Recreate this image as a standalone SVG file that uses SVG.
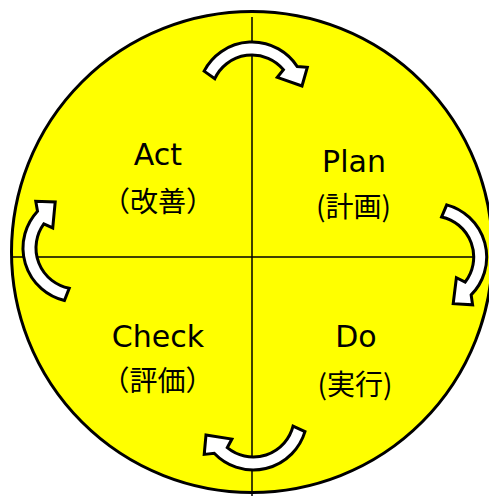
<svg xmlns="http://www.w3.org/2000/svg" xmlns:xlink="http://www.w3.org/1999/xlink" width="489" height="496" viewBox="0 0 489 496">
<style>
.lat{font-family:"DejaVu Sans","Liberation Sans",sans-serif;font-size:30px;fill:#000;text-anchor:middle}
.jp{font-family:"Noto Sans CJK JP","Noto Sans",sans-serif;font-size:28px;fill:#000;text-anchor:middle}
.arr{fill:#fff;stroke:#000;stroke-width:3;stroke-linejoin:miter}
.ax{stroke:#000;stroke-width:1.5;fill:none}
</style>
<defs>
<path id="carrow" class="arr" d="M -47.9,-24.9 A 54 54 0 0 1 45.29,-29.41 L 55.3,-28.7 L 50,-10 L 25.3,-18.7 L 31.41,-26.35 A 41 41 0 0 0 -37.2,-17.3 Z"/>
</defs>
<rect width="489" height="496" fill="#fff"/>
<g id="cycle">
<circle cx="252" cy="252" r="240.5" fill="#ffff00" stroke="#000" stroke-width="3"/>
<line class="ax" x1="252" y1="17" x2="252" y2="496"/>
<line class="ax" x1="12" y1="257" x2="478" y2="257"/>
</g>
<g id="connectors">
<use xlink:href="#carrow" transform="translate(252,96)"/>
<use xlink:href="#carrow" transform="translate(432.7,257) rotate(77.6)"/>
<use xlink:href="#carrow" transform="translate(253.3,416) rotate(169.4)"/>
<use xlink:href="#carrow" transform="translate(77,248) rotate(-104)"/>
</g>
<g id="act">
<text class="lat" x="158" y="165">Act</text>
<text class="jp" x="158" y="212">（改善）</text>
</g>
<g id="plan">
<text class="lat" x="354" y="172">Plan</text>
<text class="jp" x="353.5" y="217">(計画)</text>
</g>
<g id="check">
<text class="lat" x="158" y="346.7">Check</text>
<text class="jp" x="157.5" y="391">（評価）</text>
</g>
<g id="do">
<text class="lat" x="356" y="346.7">Do</text>
<text class="jp" x="355" y="395">(実行)</text>
</g>
</svg>
